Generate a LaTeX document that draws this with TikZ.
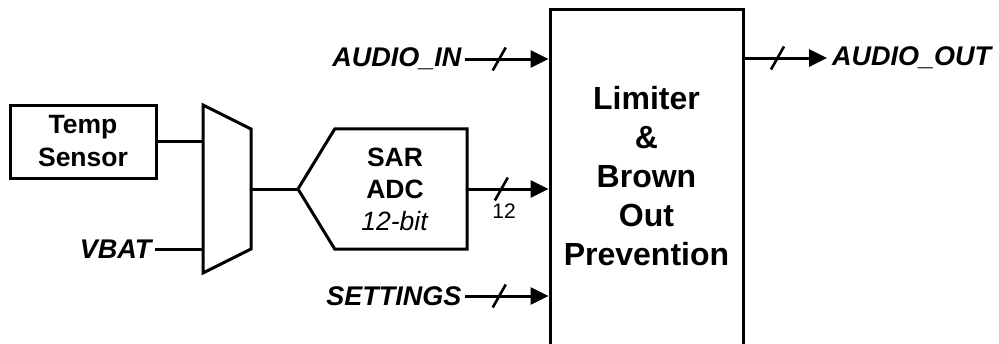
\documentclass[tikz,border=0pt]{standalone}
\usepackage{fontspec}
\setmainfont{Liberation Sans}
\usetikzlibrary{arrows.meta,positioning}

\newcommand\busmark[1]{\draw[slashline] ([shift={(-6.5,11.5)}]#1) -- ([shift={(6.5,-11.5)}]#1);}

\begin{document}
\begin{tikzpicture}[
    x=1pt, y=-1pt,
    blk/.style={draw, line width=3pt, align=center, font=\bfseries\fontsize{26.5}{33}\selectfont},
    sig/.style={font=\bfseries\itshape\fontsize{27}{30}\selectfont},
    wire/.style={line width=3pt},
    bus/.style={line width=3pt, -{Triangle[length=18pt,width=17pt]}},
    slashline/.style={line width=2.6pt}
]
\useasboundingbox (0,0) rectangle (999,343);

% main block
\node[draw, line width=3pt, minimum width=193pt, minimum height=400pt, inner sep=0pt] (lim) at (646.5,209) {};
\node[align=center, font=\bfseries\fontsize{32}{39}\selectfont] (limtxt) at (646.5,176.5) {Limiter\\\&\\Brown\\Out\\Prevention};

% temperature sensor and mux
\node[blk, minimum width=146pt, minimum height=73pt] (temp) at (83,141.5) {Temp\\Sensor};
\coordinate (m1) at (203,105);
\coordinate (m2) at (251,129);
\coordinate (m3) at (251,249);
\coordinate (m4) at (203,273);
\draw[wire] (m1) -- (m2) -- (m3) -- (m4) -- cycle;
\coordinate (mout) at (251,189);
\node[sig, anchor=east] (vbat) at (155,249) {VBAT};

% SAR ADC
\node[minimum width=132pt, minimum height=120pt, inner sep=0pt] (adc) at (401,189) {};
\coordinate (adcin) at (298,189);
\draw[wire] (adc.north east) -- (adc.north west) -- (adcin) -- (adc.south west) -- (adc.south east) -- cycle;
\node[align=center, font=\fontsize{26.5}{32}\selectfont] (adctxt) at (395,189) {\textbf{SAR}\\\textbf{ADC}\\\textit{12-bit}};

% input and output labels
\node[sig, anchor=east] (ain) at (465,59) {AUDIO\_IN};
\node[sig, anchor=east] (set) at (465,296) {SETTINGS};
\coordinate (oend) at (827,58);
\node[sig, anchor=west, inner sep=5pt] (aout) at (oend) {AUDIO\_OUT};

% connections
\draw[wire] (temp.east) -- (temp.east -| m1);
\draw[wire] (vbat.east) -- (vbat.east -| m1);
\draw[wire] (mout) -- (adcin);
\draw[bus] (ain.east) -- coordinate[pos=0.41] (s1) (ain.east -| lim.west);
\draw[bus] (adc.east) -- coordinate[pos=0.42] (s2) (adc.east -| lim.west);
\draw[bus] (set.east) -- coordinate[pos=0.41] (s3) (set.east -| lim.west);
\draw[bus] (oend -| lim.east) -- coordinate[pos=0.40] (s4) (oend);
\busmark{s1}
\busmark{s2}
\busmark{s3}
\busmark{s4}
\node[font=\fontsize{21}{23}\selectfont] (nbits) at (504,211) {12};
\end{tikzpicture}
\end{document}
